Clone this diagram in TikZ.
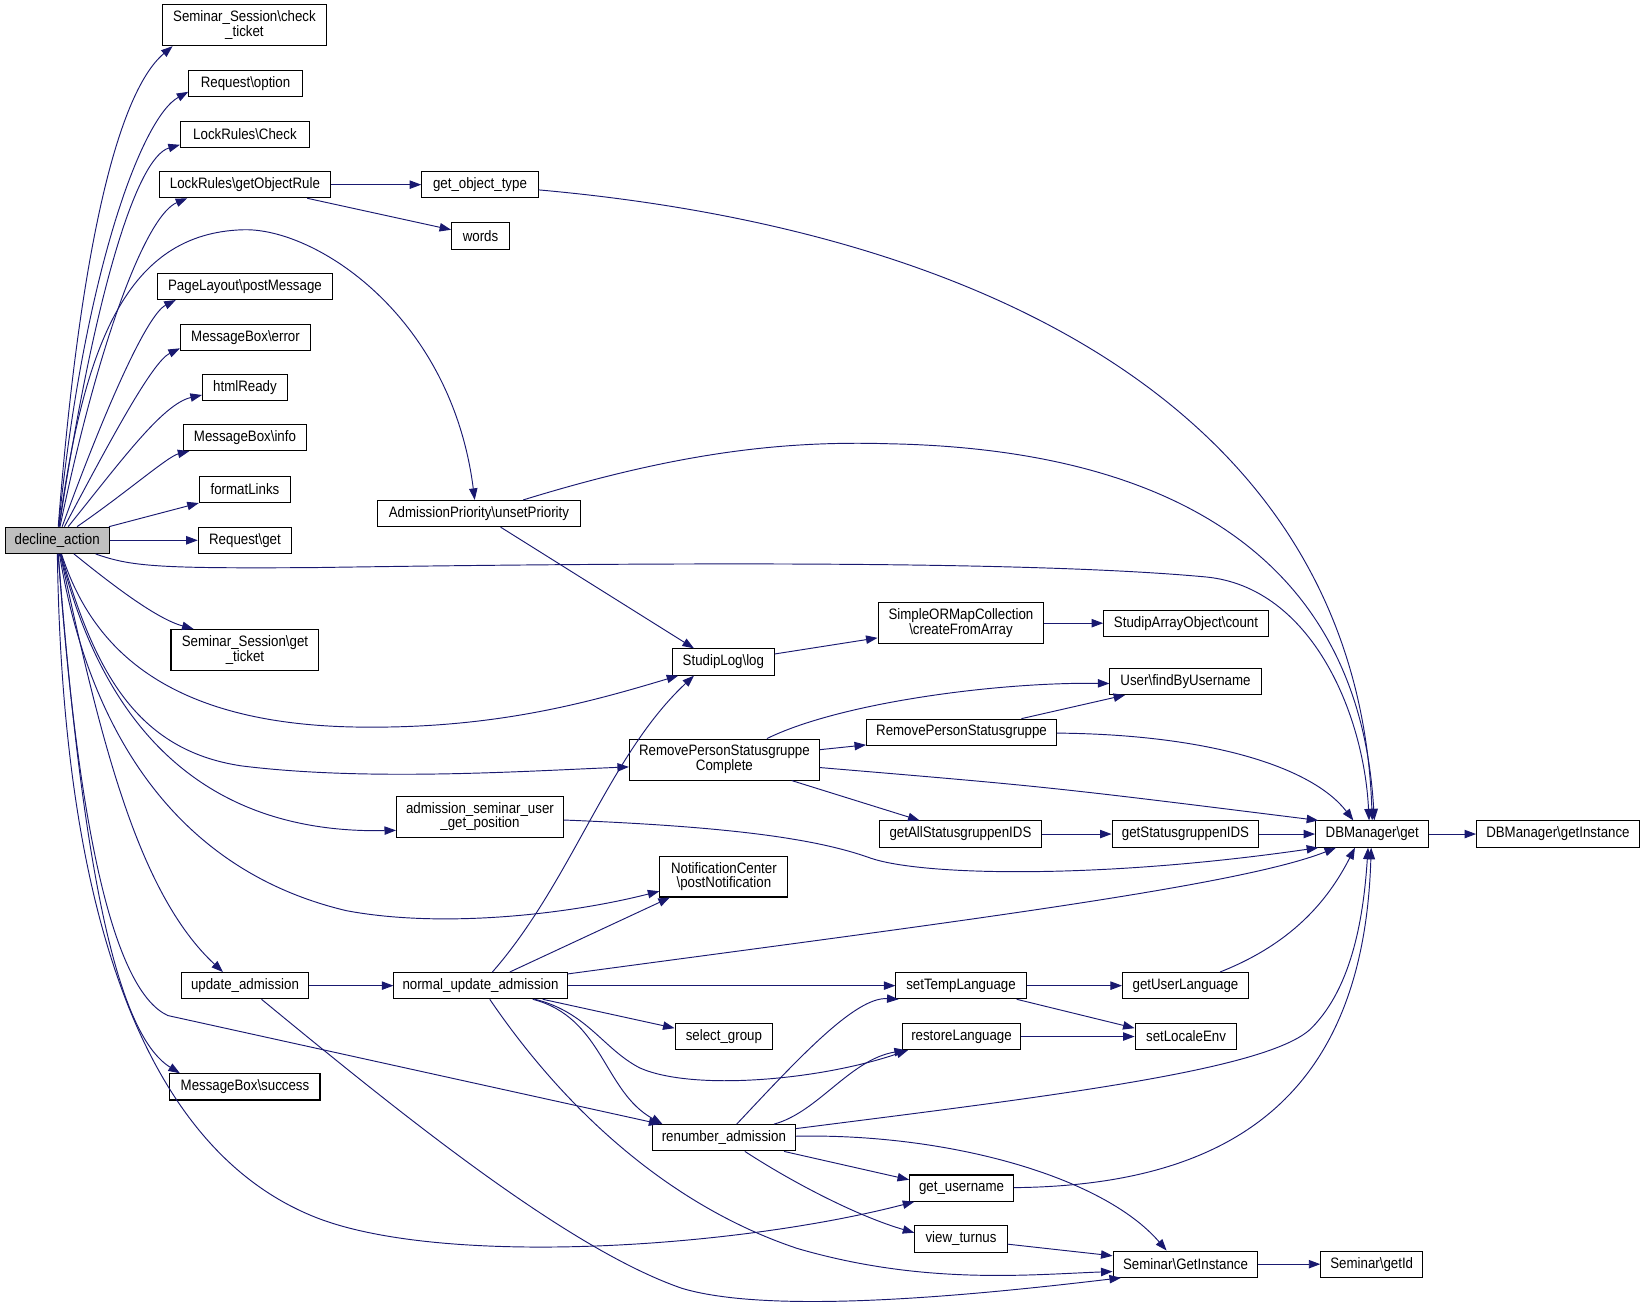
\documentclass[tikz,border=0pt]{standalone}
\usepackage{fontspec}
\setmainfont{Liberation Sans}[FakeStretch=0.88]
\usepackage{tikz}
\usetikzlibrary{arrows.meta}
\definecolor{edgeblue}{HTML}{191970}
\definecolor{rootgray}{HTML}{BFBFBF}
\tikzstyle{func} = [draw, rectangle, line width=1pt, inner xsep=3pt, inner ysep=2pt,
    minimum height=25pt, align=center, font=\fontsize{14.4}{14}\selectfont]
\tikzstyle{func2} = [func, minimum height=39pt]
\tikzstyle{call} = [draw=edgeblue, line width=0.9pt, -{Triangle[length=11pt,width=8pt]}]

\begin{document}
\begin{tikzpicture}[x=1pt, y=-1pt]
            \useasboundingbox (0,0) rectangle (1568,1243);

            \node[func, name=decline, fill=rootgray, minimum width=99pt] at (54.5, 515) {decline\_action};

            \node[func2, name=check, minimum width=156pt] at (233, 24) {Seminar\_Session\textbackslash check\\\_ticket};
            \node[func, name=option, minimum width=108pt] at (234, 79.5) {Request\textbackslash option};
            \node[func, name=lcheck, minimum width=123pt] at (233.5, 128) {LockRules\textbackslash Check};
            \node[func, name=lrule, minimum width=163pt] at (233.5, 176) {LockRules\textbackslash getObjectRule};
            \node[func, name=page, minimum width=167pt] at (233.5, 273) {PageLayout\textbackslash postMessage};
            \node[func, name=error, minimum width=124pt] at (234, 322) {MessageBox\textbackslash error};
            \node[func, name=html, minimum width=81pt] at (233.5, 369.5) {htmlReady};
            \node[func, name=info, minimum width=117pt] at (233.5, 417) {MessageBox\textbackslash info};
            \node[func, name=fmt, minimum width=87pt] at (233.5, 466.5) {formatLinks};
            \node[func, name=reqget, minimum width=89pt] at (233.5, 515) {Request\textbackslash get};
            \node[func2, name=gticket, minimum width=141pt] at (233.5, 619.5) {Seminar\_Session\textbackslash get\\\_ticket};
            \node[func, name=upd, minimum width=121pt] at (233.5, 939.5) {update\_admission};
            \node[func, name=succ, minimum width=143pt] at (233.5, 1036) {MessageBox\textbackslash success};

            \node[func, name=gobj, minimum width=111pt] at (457.5, 176) {get\_object\_type};
            \node[func, name=words, minimum width=55pt] at (458, 225) {words};
            \node[func, name=unset, minimum width=193pt] at (456.5, 489.5) {AdmissionPriority\textbackslash unsetPriority};
            \node[func2, name=adm, minimum width=159pt] at (457.5, 778.5) {admission\_seminar\_user\\\_get\_position};
            \node[func, name=nua, minimum width=165pt] at (458, 939.5) {normal\_update\_admission};

            \node[func, name=log, minimum width=97pt] at (689.5, 631) {StudipLog\textbackslash log};
            \node[func2, name=rpsc, minimum width=181pt] at (690.5, 724) {RemovePersonStatusgruppe\\Complete};
            \node[func2, name=notif, minimum width=122pt] at (690, 835.5) {NotificationCenter\\\textbackslash postNotification};
            \node[func, name=sel, minimum width=93pt] at (690, 988) {select\_group};
            \node[func, name=renum, minimum width=136pt] at (690, 1084.5) {renumber\_admission};

            \node[func2, name=somc, minimum width=158pt] at (916, 594) {SimpleORMapCollection\\\textbackslash createFromArray};
            \node[func, name=rps, minimum width=181pt] at (916.5, 698) {RemovePersonStatusgruppe};
            \node[func, name=gasg, minimum width=155pt] at (915.5, 795) {getAllStatusgruppenIDS};
            \node[func, name=stl, minimum width=124pt] at (916, 939.5) {setTempLanguage};
            \node[func, name=rest, minimum width=113pt] at (916.5, 988) {restoreLanguage};
            \node[func, name=gusr, minimum width=99pt] at (916.5, 1132.5) {get\_username};
            \node[func, name=vt, minimum width=88pt] at (916, 1181) {view\_turnus};

            \node[func, name=sao, minimum width=157pt] at (1130.5, 594) {StudipArrayObject\textbackslash count};
            \node[func, name=ufind, minimum width=144pt] at (1130, 649.5) {User\textbackslash findByUsername};
            \node[func, name=gsg, minimum width=140pt] at (1130, 795) {getStatusgruppenIDS};
            \node[func, name=gul, minimum width=120pt] at (1130, 939.5) {getUserLanguage};
            \node[func, name=sle, minimum width=97pt] at (1130.5, 988) {setLocaleEnv};
            \node[func, name=ginst, minimum width=138pt] at (1130, 1205) {Seminar\textbackslash GetInstance};

            \node[func, name=db, minimum width=108pt] at (1308, 795) {DBManager\textbackslash get};
            \node[func, name=gid, minimum width=97pt] at (1307.5, 1205) {Seminar\textbackslash getId};
            \node[func, name=dbi, minimum width=155pt] at (1485, 795) {DBManager\textbackslash getInstance};

            \draw[call] (decline) .. controls (75,250) and (110,90) .. ([xshift=10pt]check.south west);
            \draw[call] (decline) .. controls (80,260) and (135,112) .. ([yshift=-8pt]option.west);
            \draw[call] (decline) .. controls (90,280) and (130,150) .. ([yshift=-10pt]lcheck.west);
            \draw[call] (decline) .. controls (95,320) and (140,205) .. ([xshift=27pt]lrule.south west);
            \draw[call] (decline) .. controls (80,330) and (120,222) .. (232,219) .. controls (300,217) and (430,300) .. ([xshift=-4pt]unset.north);
            \draw[call] (decline) .. controls (100,390) and (140,300) .. ([xshift=18pt]page.south west);
            \draw[call] (decline) .. controls (105,420) and (145,345) .. ([yshift=-10pt]error.west);
            \draw[call] (decline) .. controls (115,440) and (155,385) .. ([yshift=-7pt]html.west);
            \draw[call] (decline) .. controls (120,470) and (160,435) .. ([xshift=6pt]info.south west);
            \draw[call] (decline) -- (fmt.south west);
            \draw[call] (decline) -- (reqget);
            \draw[call] (decline) .. controls (125,540) and (150,542) .. (300,541) .. controls (700,535) and (1000,536) .. (1150,550) .. controls (1250,560) and (1300,680) .. ([xshift=-3pt]db.north);
            \draw[call] (decline) .. controls (110,560) and (150,590) .. ([xshift=22pt]gticket.north west);
            \draw[call] (decline) .. controls (85,610) and (150,690) .. (340,693) .. controls (470,695) and (560,670) .. ([xshift=6pt]log.south west);
            \draw[call] (decline) .. controls (90,640) and (130,715) .. (230,730) .. controls (350,745) and (500,735) .. ([yshift=-7pt]rpsc.west);
            \draw[call] (decline) .. controls (100,700) and (200,795) .. ([yshift=-13pt]adm.west);
            \draw[call] (decline) .. controls (85,700) and (170,830) .. (330,868) .. controls (420,885) and (540,872) .. ([yshift=-14pt]notif.west);
            \draw[call] (decline) .. controls (95,700) and (130,850) .. ([xshift=40pt]upd.north west);
            \draw[call] (decline) .. controls (75,800) and (110,945) .. (160,968) -- ([xshift=8pt]renum.north west);
            \draw[call] (decline) .. controls (78,820) and (110,985) .. ([xshift=10pt]succ.north west);
            \draw[call] (decline) .. controls (60,900) and (150,1100) .. (300,1160) .. controls (420,1208) and (700,1190) .. ([xshift=5pt]gusr.south west);

            \draw[call] (lrule) -- (gobj);
            \draw[call] (lrule) -- ([yshift=6pt]words.west);
            \draw[call] (gobj) .. controls (950,220) and (1295,400) .. (db.north);
            \draw[call] (unset) .. controls (650,430) and (750,420) .. (848,423) .. controls (1100,428) and (1295,520) .. ([xshift=2pt]db.north);
            \draw[call] (unset) -- ([xshift=21pt]log.north west);

            \draw[call] (log) -- ([yshift=-14pt]somc.west);
            \draw[call] (somc) -- (sao);
            \draw[call] (rpsc) .. controls (800,670) and (950,650) .. ([yshift=-2pt]ufind.west);
            \draw[call] (rpsc) -- ([yshift=-12pt]rps.west);
            \draw[call] (rpsc) .. controls (1000,750) .. ([xshift=3pt]db.north west);
            \draw[call] (rpsc) -- ([xshift=39pt]gasg.north west);
            \draw[call] (rps) -- ([xshift=15pt]ufind.south west);
            \draw[call] (rps) .. controls (1150,700) and (1250,730) .. ([xshift=-18pt]db.north);
            \draw[call] (gasg) -- (gsg);
            \draw[call] (gsg) -- (db);
            \draw[call] (db) -- (dbi);
            \draw[call] (adm) .. controls (700,788) and (780,800) .. (830,818) .. controls (880,835) and (1050,838) .. ([xshift=3pt]db.south west);

            \draw[call] (upd) -- (nua);
            \draw[call] (upd) .. controls (380,1060) and (540,1190) .. (650,1228) .. controls (740,1255) and (950,1232) .. ([xshift=8pt]ginst.south west);

            \draw[call] (nua) .. controls (545,840) and (580,720) .. ([xshift=21pt]log.south west);
            \draw[call] (nua) -- ([xshift=10pt]notif.south west);
            \draw[call] (nua) .. controls (900,880) and (1180,845) .. ([xshift=20pt]db.south west);
            \draw[call] (nua) -- (stl);
            \draw[call] (nua) -- ([yshift=8pt]sel.west);
            \draw[call] (nua) .. controls (560,965) and (575,1000) .. (610,1018) .. controls (660,1040) and (780,1030) .. ([xshift=6pt]rest.south west);
            \draw[call] (nua) .. controls (575,970) and (575,1040) .. ([xshift=10pt]renum.north west);
            \draw[call] (nua) .. controls (540,1060) and (640,1150) .. (760,1190) .. controls (880,1225) and (980,1215) .. ([yshift=-7pt]ginst.west);

            \draw[call] (renum) .. controls (760,1010) and (815,950) .. ([xshift=3pt]stl.south west);
            \draw[call] (renum) .. controls (780,1060) and (810,1010) .. ([xshift=4pt]rest.south west);
            \draw[call] (renum) .. controls (1000,1045) and (1210,1020) .. (1250,980) .. controls (1290,940) and (1300,870) .. ([xshift=-4pt]db.south);
            \draw[call] (renum) .. controls (900,1080) and (1050,1120) .. ([xshift=-18pt]ginst.north);
            \draw[call] (renum) -- ([yshift=8pt]gusr.west);
            \draw[call] (renum) .. controls (760,1130) and (820,1160) .. ([yshift=6pt]vt.west);

            \draw[call] (stl) -- (gul);
            \draw[call] (stl) -- ([yshift=8pt]sle.west);
            \draw[call] (rest) -- (sle);
            \draw[call] (gul) .. controls (1230,900) and (1265,860) .. ([xshift=38pt]db.south west);
            \draw[call] (gusr) .. controls (1180,1130) and (1300,1040) .. ([xshift=-1pt]db.south);
            \draw[call] (vt) -- ([yshift=8pt]ginst.west);
            \draw[call] (ginst) -- (gid);
        \end{tikzpicture}
\end{document}
